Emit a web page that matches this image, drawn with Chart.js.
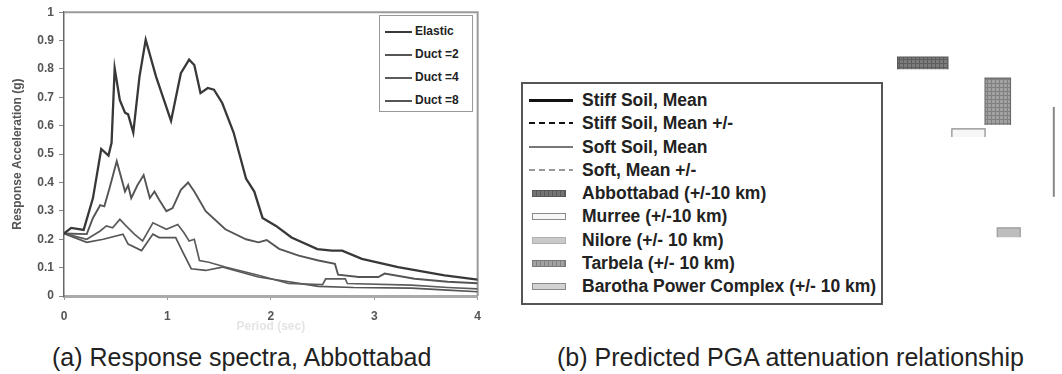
<!DOCTYPE html>
<html>
<head>
<meta charset="utf-8">
<script src="https://cdn.jsdelivr.net/npm/chart.js@4.4.1/dist/chart.umd.min.js"></script>
<style>
  body { margin: 0; width: 1062px; height: 374px; background: #fff; position: relative; overflow: hidden;
         font-family: 'Liberation Sans', Arial, sans-serif; }
  canvas { position: absolute; }
  #spec { left: 0; top: 0; }
  #pga { left: 884px; top: 0; }
  .legend { position: absolute; background: #fff; box-sizing: border-box; color: #222; font-weight: bold; }
  .legend .row { position: relative; white-space: nowrap; }
  .legend .sw { position: absolute; box-sizing: border-box; }
  #specLegend { left: 379px; top: 15px; width: 94px; height: 97px; border: 1px solid #999; padding-top: 4px; font-size: 12px; }
  #specLegend .row { height: 23px; line-height: 23px; padding-left: 35px; }
  #specLegend .sw { left: 5px; top: 11px; width: 27px; height: 0; }
  #pgaLegend { left: 521px; top: 82px; width: 362px; height: 223px; border: 2px solid #555; padding-top: 5px; font-size: 17.5px; }
  #pgaLegend .row { height: 23.25px; line-height: 23.25px; padding-left: 59px; }
  .caption { position: absolute; top: 343px; font-size: 25px; color: #222; white-space: nowrap; }
</style>
</head>
<body>
<canvas id="spec" width="490" height="336"></canvas>
<canvas id="pga" width="175" height="310"></canvas>
<div class="legend" id="specLegend"></div>
<div class="legend" id="pgaLegend"></div>
<div class="caption" style="left:52px">(a) Response spectra, Abbottabad</div>
<div class="caption" style="left:557px">(b) Predicted PGA attenuation relationship</div>
<script>
// (a) response spectra, [period s, acceleration g]
const elastic = [[0, 0.22], [0.07, 0.24], [0.19, 0.233], [0.28, 0.345], [0.36, 0.518], [0.43, 0.495], [0.46, 0.54],
  [0.49, 0.802], [0.54, 0.69], [0.59, 0.646], [0.62, 0.64], [0.67, 0.576], [0.73, 0.773], [0.79, 0.903],
  [0.89, 0.773], [1.035, 0.617], [1.13, 0.785], [1.21, 0.833], [1.26, 0.814], [1.32, 0.715], [1.39, 0.733],
  [1.45, 0.727], [1.53, 0.68], [1.64, 0.576], [1.76, 0.414], [1.84, 0.368], [1.92, 0.275], [2.05, 0.247],
  [2.2, 0.206], [2.45, 0.165], [2.59, 0.16], [2.69, 0.16], [2.88, 0.131], [3.23, 0.102], [3.68, 0.073], [4, 0.058]]
const duct2 = [[0, 0.22], [0.22, 0.218], [0.28, 0.275], [0.35, 0.32], [0.39, 0.316], [0.44, 0.38], [0.51, 0.475],
  [0.59, 0.368], [0.62, 0.39], [0.65, 0.345], [0.71, 0.39], [0.77, 0.426], [0.83, 0.345], [0.875, 0.368],
  [0.92, 0.339], [0.99, 0.299], [1.05, 0.31], [1.13, 0.374], [1.2, 0.4], [1.26, 0.368], [1.37, 0.299],
  [1.56, 0.235], [1.76, 0.2], [1.88, 0.189], [1.96, 0.197], [2.08, 0.166], [2.27, 0.142], [2.46, 0.125],
  [2.62, 0.113], [2.65, 0.075], [2.85, 0.067], [3.04, 0.067], [3.1, 0.079], [3.39, 0.061], [3.71, 0.05], [4, 0.045]]
const duct4 = [[0, 0.22], [0.09, 0.212], [0.22, 0.2], [0.35, 0.229], [0.41, 0.247], [0.47, 0.24], [0.54, 0.27],
  [0.6, 0.247], [0.68, 0.218], [0.76, 0.194], [0.86, 0.258], [0.99, 0.235], [1.1, 0.252], [1.16, 0.223],
  [1.21, 0.194], [1.26, 0.2], [1.31, 0.125], [1.4, 0.119], [1.56, 0.102], [1.88, 0.073], [2.17, 0.044],
  [2.5, 0.04], [2.53, 0.06], [2.72, 0.06], [2.74, 0.044], [3.36, 0.038], [3.71, 0.03], [4, 0.025]]
const duct8 = [[0, 0.22], [0.22, 0.189], [0.38, 0.2], [0.57, 0.218], [0.62, 0.183], [0.75, 0.16], [0.86, 0.218],
  [0.92, 0.206], [1.08, 0.206], [1.15, 0.154], [1.23, 0.096], [1.37, 0.09], [1.53, 0.102], [1.88, 0.067],
  [2.46, 0.034], [2.8, 0.03], [3.36, 0.028], [3.71, 0.021], [4, 0.015]]
const spectraNames = ['Elastic', 'Duct =2', 'Duct =4', 'Duct =8']
const spectraColors = ['#383838', '#555555', '#5c5c5c', '#555555']
const spectraWidths = [2.3, 1.9, 1.7, 1.7]

// (b) predicted PGA: site boxes, distance km (+/- 10 km) and PGA g
const siteNames = ['Abbottabad (+/-10 km)', 'Murree (+/-10 km)', 'Nilore (+/- 10 km)', 'Tarbela (+/- 10 km)',
  'Barotha Power Complex (+/- 10 km)']
const siteDistLo = [34, 56, 85, 76, null]
const siteDistHi = [54, 76, 105, 96, null]
const sitePgaLo = [0.777, 0.558, 0.235, 0.597, null]
const sitePgaHi = [0.816, 0.584, 0.265, 0.748, null]
const curveNames = ['Stiff Soil, Mean', 'Stiff Soil, Mean +/-', 'Soft Soil, Mean', 'Soft, Mean +/-']
// a cut segment of another mark at the right edge
const edgeDist = [143, 143]
const edgePga = [0.365, 0.655]

function hatch(bg, fg) {
  const c = document.createElement('canvas')
  c.width = 4
  c.height = 4
  const g = c.getContext('2d')
  g.fillStyle = bg
  g.fillRect(0, 0, 4, 4)
  g.fillStyle = fg
  g.fillRect(0, 3, 4, 1)
  g.fillRect(3, 0, 1, 4)
  return g.createPattern(c, 'repeat')
}

const siteFill = [hatch('#7c7c7c', '#5e5e5e'), '#f7f7f7', '#bdbdbd', hatch('#a2a2a2', '#808080'), '#cfcfcf']
const siteBorder = ['#5a5a5a', '#8a8a8a', '#9a9a9a', '#6a6a6a', '#8a8a8a']
const siteCss = [
  'background:repeating-linear-gradient(90deg,#747474 0 3px,#5a5a5a 3px 4px);border:1px solid #5a5a5a',
  'background:#f7f7f7;border:1px solid #8a8a8a',
  'background:#c9c9c9;border:1px solid #b0b0b0',
  'background:repeating-linear-gradient(90deg,#a2a2a2 0 3px,#808080 3px 4px);border:1px solid #7a7a7a',
  'background:#d2d2d2;border:1px solid #8a8a8a'
]
const curveCss = [
  'background:#111;height:2.5px',
  'background:repeating-linear-gradient(90deg,#111 0 6px,transparent 6px 10px);height:2px',
  'background:#777;height:2px',
  'background:repeating-linear-gradient(90deg,#999 0 6px,transparent 6px 10px);height:2px'
]

const frame = {
  id: 'frame',
  beforeDatasetsDraw(chart) {
    const { ctx, chartArea } = chart
    ctx.save()
    ctx.strokeStyle = '#9a9a9a'
    ctx.lineWidth = 2
    ctx.beginPath()
    ctx.moveTo(chartArea.left, chartArea.top)
    ctx.lineTo(chartArea.right, chartArea.top)
    ctx.lineTo(chartArea.right, chartArea.bottom)
    ctx.stroke()
    ctx.restore()
  }
}

const tickFont = { family: "'Liberation Sans', Arial, sans-serif", size: 12, weight: 'bold' }

new Chart(document.getElementById('spec'), {
  type: 'line',
  data: {
    datasets: [elastic, duct2, duct4, duct8].map((pts, i) => ({
      label: spectraNames[i],
      data: pts.map(([x, y]) => ({ x, y })),
      borderColor: spectraColors[i],
      borderWidth: spectraWidths[i],
      pointRadius: 0,
      tension: 0
    }))
  },
  options: {
    responsive: false,
    animation: false,
    layout: { padding: { top: 8, right: 12 } },
    plugins: { legend: { display: false }, tooltip: { enabled: false } },
    scales: {
      x: {
        type: 'linear',
        min: 0,
        max: 4,
        ticks: { stepSize: 1, color: '#555', font: tickFont, padding: 9 },
        grid: { drawOnChartArea: false, tickLength: 4, color: '#999' },
        border: { color: '#aaa', width: 3 },
        title: { display: true, text: 'Period (sec)', color: '#e4e4e4', font: tickFont, padding: { top: 0, bottom: 2 } },
        afterFit: scale => { scale.height = 40 }
      },
      y: {
        min: 0,
        max: 1,
        ticks: { stepSize: 0.1, color: '#555', font: tickFont, padding: 5, callback: v => String(+v.toFixed(1)) },
        grid: { drawOnChartArea: false, tickLength: 5, color: '#888' },
        border: { color: '#666', width: 1.5 },
        title: { display: true, text: 'Response Acceleration (g)', color: '#555', font: tickFont, padding: { top: 10 } },
        afterFit: scale => { scale.width = 64 }
      }
    }
  },
  plugins: [frame]
})

const siteSets = siteNames.map((name, i) => ({
  label: name,
  data: siteDistLo[i] == null ? [] : [
    { x: siteDistLo[i], y: sitePgaLo[i] },
    { x: siteDistLo[i], y: sitePgaHi[i] },
    { x: siteDistHi[i], y: sitePgaHi[i] },
    { x: siteDistHi[i], y: sitePgaLo[i] }
  ],
  fill: { value: sitePgaLo[i] },
  backgroundColor: siteFill[i],
  borderColor: siteBorder[i],
  borderWidth: 1.2,
  pointRadius: 0,
  tension: 0
}))

new Chart(document.getElementById('pga'), {
  type: 'line',
  data: {
    datasets: siteSets.concat([{
      label: 'edge',
      data: edgeDist.map((x, i) => ({ x, y: edgePga[i] })),
      borderColor: '#888',
      borderWidth: 2,
      pointRadius: 0
    }])
  },
  options: {
    responsive: false,
    animation: false,
    layout: { padding: 0 },
    plugins: { legend: { display: false }, tooltip: { enabled: false } },
    scales: {
      x: { type: 'logarithmic', min: 30, max: 150, display: false },
      y: { min: 0, max: 1, display: false }
    }
  }
})

document.getElementById('specLegend').innerHTML = spectraNames.map((name, i) => `
  <div class="row"><span class="sw" style="border-top:2px solid ${spectraColors[i]}"></span>${name}</div>`).join('')

document.getElementById('pgaLegend').innerHTML = curveNames.map((name, i) => `
  <div class="row"><span class="sw" style="left:6px;top:10px;width:44px;${curveCss[i]}"></span>${name}</div>`)
  .concat(siteNames.map((name, i) => `
  <div class="row"><span class="sw" style="left:9px;top:8px;width:34px;height:7px;${siteCss[i]}"></span>${name}</div>`))
  .join('')
</script>
</body>
</html>
